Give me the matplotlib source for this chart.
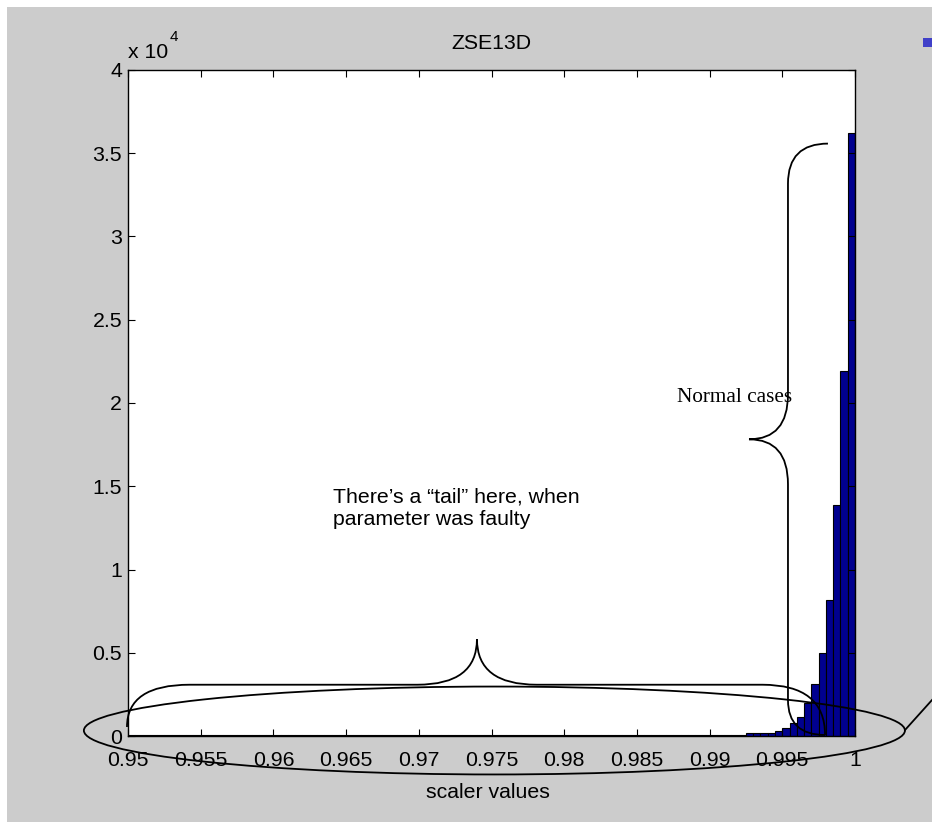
import matplotlib
matplotlib.use("Agg")
import matplotlib.pyplot as plt
from matplotlib.path import Path
from matplotlib.patches import PathPatch, Ellipse, Rectangle

plt.rcParams['font.family'] = ['Liberation Sans', 'DejaVu Sans']

TITLE = "ZSE13D"
X_LABEL = "scaler values"
BIN_START = 0.95
BIN_WIDTH = 0.0005
# histogram counts per bin, 0.95 .. 1.0
COUNTS = [
    60, 60, 60, 60, 60, 60, 60, 60, 60, 60,
    60, 60, 60, 60, 60, 60, 60, 60, 60, 60,
    60, 60, 60, 60, 60, 60, 60, 60, 60, 60,
    60, 60, 60, 60, 60, 60, 60, 60, 60, 60,
    60, 60, 60, 60, 60, 60, 60, 60, 60, 60,
    60, 60, 60, 60, 60, 60, 60, 60, 60, 60,
    60, 60, 60, 60, 60, 60, 60, 60, 60, 60,
    60, 60, 60, 60, 60, 60, 60, 60, 70, 70,
    70, 70, 80, 80, 90, 200, 200, 200, 210, 300,
    500, 800, 1160, 1980, 3140, 5000, 8160, 13900, 21900, 36200,
]
X_TICKS = [0.95, 0.955, 0.96, 0.965, 0.97, 0.975, 0.98, 0.985, 0.99, 0.995, 1.0]
X_TICK_LABELS = ["0.95", "0.955", "0.96", "0.965", "0.97", "0.975",
                 "0.98", "0.985", "0.99", "0.995", "1"]
Y_TICKS = [0, 5000, 10000, 15000, 20000, 25000, 30000, 35000, 40000]
Y_TICK_LABELS = ["0", "0.5", "1", "1.5", "2", "2.5", "3", "3.5", "4"]
Y_EXPONENT = "4"

# annotations (data coordinates)
TAIL_TEXT = ["There\u2019s a \u201ctail\u201d here, when", "parameter was faulty"]
TAIL_TEXT_POS = [(0.9641, 14040), (0.9641, 12660)]
NORMAL_TEXT = "Normal cases"
NORMAL_TEXT_POS = (0.98776, 20040)
ELLIPSE_CENTER = (0.9752, 330)
ELLIPSE_SIZE = (0.05647, 5280)
CALLOUT = ([1.00344, 1.00585], [360, 2700])

fs = 15.3
fig = plt.figure(figsize=(9.32, 8.22), dpi=100, facecolor='white')
fig.add_artist(Rectangle((7 / 932, 0), 1, 815 / 822, transform=fig.transFigure,
                         facecolor='#cccccc', edgecolor='none', zorder=-5))
fig.add_artist(Rectangle((923 / 932, 1 - 47 / 822), 9 / 932, 9 / 822,
                         transform=fig.transFigure, facecolor='#4040c8',
                         edgecolor='none', zorder=2))

ax = fig.add_axes([128 / 932, 1 - 736 / 822, 727 / 932, 666 / 822])
ax.set_facecolor('white')

lefts = [BIN_START + i * BIN_WIDTH for i in range(len(COUNTS))]
ax.bar(lefts, COUNTS, width=BIN_WIDTH, align='edge', color='#00008f',
       edgecolor='black', linewidth=0.8)

ax.set_xlim(0.95, 1.0)
ax.set_ylim(0, 40000)
ax.set_xticks(X_TICKS)
ax.set_xticklabels(X_TICK_LABELS)
ax.set_yticks(Y_TICKS)
ax.set_yticklabels(Y_TICK_LABELS)
ax.tick_params(direction='in', length=5, width=0.8, top=True, right=True,
               labelsize=fs, color='black')
ax.tick_params(axis='x', pad=11)
ax.tick_params(axis='y', pad=4.3)
for s in ax.spines.values():
    s.set_linewidth(1.0)

ax.set_title(TITLE, fontsize=fs, pad=15)
ax.set_xlabel(X_LABEL, fontsize=fs)
ax.xaxis.set_label_coords(0.4945, -0.0706)

# MATLAB style exponent label
ax.text(0.0, 1 + 12 / 666, "x 10", transform=ax.transAxes, fontsize=fs,
        ha='left', va='baseline')
ax.text(42 / 727, 1 + 29 / 666, Y_EXPONENT, transform=ax.transAxes,
        fontsize=11, ha='left', va='baseline')


def h_brace(x0, y0, x1, y1, ytop, xc, ycusp, r_end, r_cusp):
    verts = [(x0, y0), (x0, ytop), (x0 + r_end, ytop),
             (xc - r_cusp, ytop), (xc, ytop), (xc, ycusp),
             (xc, ytop), (xc + r_cusp, ytop),
             (x1 - r_end, ytop), (x1, ytop), (x1, y1)]
    codes = [Path.MOVETO, Path.CURVE3, Path.CURVE3, Path.LINETO,
             Path.CURVE3, Path.CURVE3, Path.CURVE3, Path.CURVE3,
             Path.LINETO, Path.CURVE3, Path.CURVE3]
    return Path(verts, codes)


def v_brace(xv, xt, yt, rt, xc, yc, rc, xb, yb, rb):
    verts = [(xt, yt), (xv, yt), (xv, yt - rt),
             (xv, yc + rc), (xv, yc), (xc, yc),
             (xv, yc), (xv, yc - rc),
             (xv, yb + rb), (xv, yb), (xb, yb)]
    codes = [Path.MOVETO, Path.CURVE3, Path.CURVE3, Path.LINETO,
             Path.CURVE3, Path.CURVE3, Path.CURVE3, Path.CURVE3,
             Path.LINETO, Path.CURVE3, Path.CURVE3]
    return Path(verts, codes)


tail = h_brace(0.94993, 540, 0.99794, 60, 3080, 0.974, 5820, 0.0043, 0.0041)
normal = v_brace(0.99539, 0.99814, 35580, 2400, 0.99271, 17820, 2700,
                 0.99794, 60, 2100)
for p in (tail, normal):
    ax.add_patch(PathPatch(p, facecolor='none', edgecolor='black', lw=1.3,
                           clip_on=False, zorder=5))

ax.add_patch(Ellipse(ELLIPSE_CENTER, ELLIPSE_SIZE[0], ELLIPSE_SIZE[1],
                     facecolor='none', edgecolor='black', lw=1.3,
                     clip_on=False, zorder=5))
ax.plot(CALLOUT[0], CALLOUT[1], color='black', lw=1.3, clip_on=False, zorder=5)

for line, (tx, ty) in zip(TAIL_TEXT, TAIL_TEXT_POS):
    ax.text(tx, ty, line, fontsize=fs, ha='left', va='baseline', zorder=6)
ax.text(NORMAL_TEXT_POS[0], NORMAL_TEXT_POS[1], NORMAL_TEXT,
        family=['Liberation Serif', 'DejaVu Serif'], fontsize=fs,
        ha='left', va='baseline', zorder=6)

fig.savefig("out.png", dpi=100, facecolor=fig.get_facecolor())
